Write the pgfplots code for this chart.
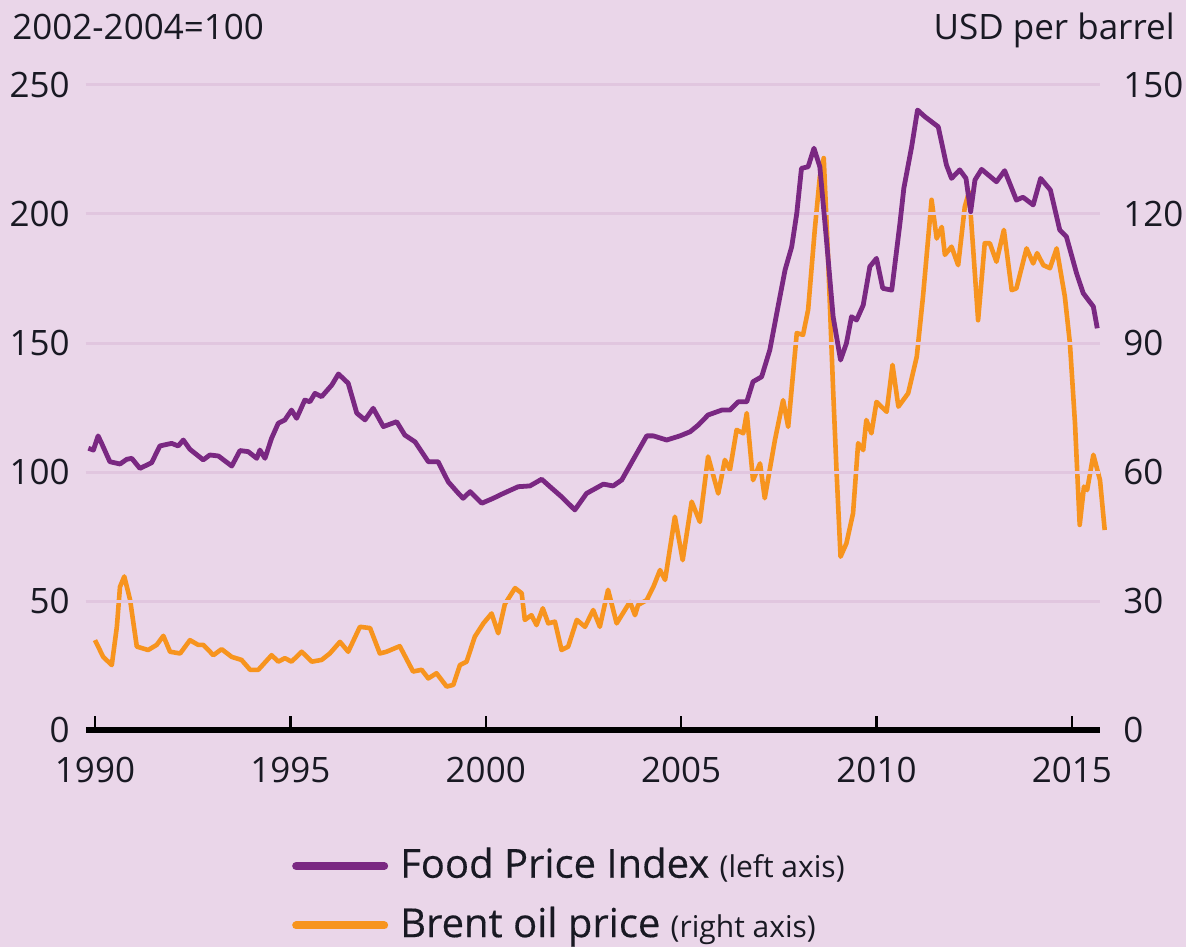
\documentclass[border=0pt]{standalone}
\usepackage{pgfplots}
\pgfplotsset{compat=1.18}
\usepackage{fontspec}
\setmainfont{Open Sans}
\newfontfamily\legfont[FakeBold=0.35]{Open Sans}
\definecolor{bg}{RGB}{234,214,233}
\definecolor{gridc}{RGB}{225,198,223}
\definecolor{fpi}{RGB}{122,40,130}
\definecolor{brent}{RGB}{247,148,30}
\definecolor{txt}{RGB}{25,25,35}
\begin{document}
\begin{tikzpicture}
\fill[bg] (-43pt,-108.5pt) rectangle (550pt,365pt);
\pgfplotsset{
 base/.style={scale only axis, width=507pt, height=322.5pt, xmin=1989.77, xmax=2015.72, ymin=0,
 at={(0pt,0pt)}, anchor=south west, clip=false,
 /pgf/number format/assume math mode=true, /pgf/number format/1000 sep={},
 ticklabel style={font=\fontsize{17.5}{20}\selectfont, text=txt, inner sep=0pt},
 y axis line style={draw=none}, ytick style={draw=none}, ytick align=inside}
}
\begin{axis}[base, ymax=150, axis y line*=right, axis x line=none, ytick={0,30,...,150},
 yticklabel style={anchor=west, xshift=11.5pt}]
\addplot[brent, line width=2.3pt, line join=round] coordinates {
(1990.00,20.9) (1990.21,17.0) (1990.43,15.1) (1990.56,24.0) (1990.64,33.3) (1990.75,35.7) (1990.90,30.2)
(1991.07,19.4) (1991.36,18.6) (1991.58,19.8) (1991.75,21.9) (1991.92,18.2) (1992.18,17.8) (1992.43,20.9)
(1992.64,19.8) (1992.77,19.8) (1993.03,17.4) (1993.24,18.8) (1993.50,17.0) (1993.75,16.3) (1993.97,14.0)
(1994.18,14.0) (1994.52,17.4) (1994.69,15.9) (1994.86,16.7) (1995.03,15.9) (1995.29,18.2) (1995.55,15.9)
(1995.80,16.3) (1996.01,17.8) (1996.27,20.5) (1996.48,18.2) (1996.78,24.0) (1997.04,23.7) (1997.29,17.8)
(1997.46,18.2) (1997.80,19.5) (1998.14,13.6) (1998.36,14.0) (1998.53,12.0) (1998.74,13.2) (1999.00,10.1)
(1999.17,10.5) (1999.34,15.1) (1999.51,15.9) (1999.72,21.7) (1999.94,24.8) (2000.15,27.1) (2000.32,22.5)
(2000.49,29.3) (2000.75,33.0) (2000.92,31.8) (2001.00,25.6) (2001.17,26.7) (2001.30,24.4) (2001.46,28.3)
(2001.60,24.8) (2001.77,25.2) (2001.94,18.6) (2002.11,19.4) (2002.33,25.6) (2002.54,24.0) (2002.75,27.9)
(2002.92,24.0) (2003.13,32.6) (2003.35,24.8) (2003.69,29.8) (2003.82,26.7) (2003.90,29.1) (2004.12,30.2)
(2004.29,33.3) (2004.46,37.2) (2004.59,34.9) (2004.84,49.6) (2005.04,39.5) (2005.27,53.1) (2005.48,48.4)
(2005.69,63.6) (2005.95,55.0) (2006.12,62.8) (2006.25,60.5) (2006.42,69.8) (2006.59,69.0) (2006.68,73.7)
(2006.84,58.1) (2007.02,62.0) (2007.14,53.9) (2007.40,67.4) (2007.61,76.7) (2007.74,70.5) (2007.96,92.3)
(2008.12,91.9) (2008.25,97.7) (2008.42,116.3) (2008.55,128.7) (2008.65,133.0) (2008.76,110.1) (2008.89,79.1)
(2008.98,59.7) (2009.08,40.3) (2009.23,43.4) (2009.40,50.4) (2009.53,66.7) (2009.66,65.1) (2009.74,72.1)
(2009.87,69.0) (2010.00,76.3) (2010.26,74.0) (2010.41,84.9) (2010.56,75.2) (2010.81,78.3) (2011.03,86.8)
(2011.19,100.8) (2011.41,123.3) (2011.54,114.3) (2011.67,117.0) (2011.75,110.5) (2011.92,112.4) (2012.09,108.1)
(2012.26,121.7) (2012.37,125.2) (2012.47,112.4) (2012.60,95.3) (2012.77,113.2) (2012.90,113.2) (2013.07,108.9)
(2013.26,116.3) (2013.46,102.3) (2013.58,102.7) (2013.84,112.0) (2014.01,108.5) (2014.11,110.9) (2014.27,108.1)
(2014.44,107.4) (2014.61,112.0) (2014.82,100.8) (2014.95,89.9) (2015.08,71.3) (2015.20,47.7) (2015.31,56.6)
(2015.39,55.8) (2015.55,64.0) (2015.72,58.1) (2015.84,46.5)};
\end{axis}
\begin{axis}[base, ymax=250, axis y line*=left, axis x line*=bottom, ytick={0,50,...,250},
 ymajorgrids, grid style={gridc, line width=1.5pt},
 x axis line style={line width=3pt, black, -},
 xtick={1990,1995,...,2015}, xtick align=inside, major tick length=7pt, xtick style={black, line width=1.2pt},
 yticklabel style={anchor=east, xshift=-8pt}, xticklabel style={anchor=north, yshift=-13.5pt},
 legend style={at={(rel axis cs:0.197,-0.172)}, anchor=north west, draw=none, fill=none,
   font=\legfont\fontsize{20}{24}\selectfont, text=txt, row sep=11pt, nodes={inner sep=1pt},
   /tikz/every odd column/.append style={column sep=5pt}},
 legend cell align=left,
 legend image code/.code={\draw[#1, line width=4pt, line cap=round] (0pt,-1pt) -- (44pt,-1pt);}]
\addplot[fpi, line width=2.4pt, line join=round] coordinates {
(1989.83,109.2) (1989.96,108.5) (1990.08,114.0) (1990.17,111.1) (1990.38,104.0) (1990.64,103.1) (1990.81,104.9)
(1990.94,105.3) (1991.15,101.4) (1991.45,103.6) (1991.66,110.1) (1991.96,111.1) (1992.13,110.1) (1992.26,112.4)
(1992.43,108.8) (1992.77,104.7) (1992.94,106.6) (1993.16,106.2) (1993.50,102.3) (1993.71,108.3) (1993.92,107.9)
(1994.14,105.3) (1994.22,108.5) (1994.35,105.3) (1994.52,113.1) (1994.69,118.9) (1994.86,120.2) (1995.03,124.0)
(1995.16,120.8) (1995.37,127.9) (1995.50,127.2) (1995.63,130.5) (1995.80,129.2) (1996.06,133.7) (1996.23,138.0)
(1996.48,134.4) (1996.70,122.8) (1996.91,120.2) (1997.12,124.7) (1997.38,117.6) (1997.72,119.5) (1997.93,114.3)
(1998.19,111.7) (1998.53,104.0) (1998.78,104.0) (1999.04,96.2) (1999.26,92.4) (1999.42,89.8) (1999.60,92.4)
(1999.90,87.9) (2000.19,89.8) (2000.45,91.7) (2000.83,94.3) (2001.13,94.6) (2001.43,97.2) (2001.69,93.7)
(2001.94,90.4) (2002.28,85.3) (2002.58,91.7) (2003.01,95.3) (2003.26,94.6) (2003.48,96.9) (2003.77,104.7)
(2004.12,114.0) (2004.29,114.0) (2004.63,112.4) (2004.97,114.0) (2005.23,115.6) (2005.44,118.2) (2005.69,122.1)
(2006.04,124.0) (2006.25,124.0) (2006.46,127.2) (2006.68,127.2) (2006.84,135.0) (2007.06,136.9) (2007.27,147.3)
(2007.48,164.1) (2007.66,178.3) (2007.83,187.3) (2007.96,200.3) (2008.08,217.7) (2008.25,218.3) (2008.40,225.5)
(2008.55,218.3) (2008.72,189.9) (2008.89,160.2) (2009.08,143.4) (2009.23,149.9) (2009.36,160.2) (2009.49,158.9)
(2009.66,164.7) (2009.83,179.6) (2010.00,182.8) (2010.16,171.2) (2010.39,170.5) (2010.60,196.4) (2010.70,210.0)
(2010.90,226.1) (2011.05,240.3) (2011.24,237.7) (2011.58,233.8) (2011.79,219.0) (2011.92,213.8) (2012.13,217.1)
(2012.29,213.8) (2012.41,200.9) (2012.52,213.2) (2012.69,217.3) (2013.07,212.5) (2013.28,216.8) (2013.58,205.4)
(2013.75,206.5) (2014.01,203.5) (2014.20,213.8) (2014.45,209.3) (2014.69,193.8) (2014.86,191.2) (2015.12,177.0)
(2015.29,169.3) (2015.55,164.1) (2015.65,155.7)};
\addlegendentry{Food Price Index {\fontspec{Open Sans}\fontsize{15}{16}\selectfont(left axis)}}
\addlegendimage{brent, line width=2.3pt}
\addlegendentry{Brent oil price {\fontspec{Open Sans}\fontsize{15}{16}\selectfont(right axis)}}
\end{axis}
\node[anchor=base west, font=\fontsize{17.5}{20}\selectfont, text=txt, inner sep=0pt] at (-37pt,345pt) {2002-2004=100};
\node[anchor=base east, font=\fontsize{17.5}{20}\selectfont, text=txt, inner sep=0pt] at (544.5pt,345pt) {USD per barrel};
\pgfresetboundingbox
\useasboundingbox (-43pt,-108.5pt) rectangle (550pt,365pt);
\end{tikzpicture}
\end{document}
